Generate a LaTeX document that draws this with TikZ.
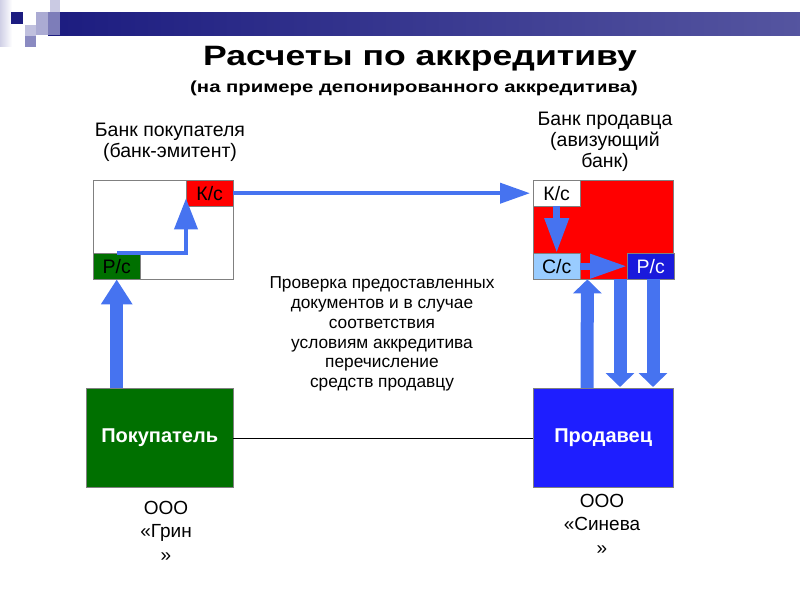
\documentclass[tikz,border=0pt]{standalone}
\usepackage{fontspec}
\setmainfont{Liberation Sans}
\newfontfamily\widefont[FakeStretch=1.27]{Liberation Sans}
\usetikzlibrary{arrows.meta,calc,positioning}
\definecolor{navy}{RGB}{28,28,128}
\definecolor{lav}{RGB}{150,150,200}
\definecolor{bankgreen}{RGB}{0,112,0}
\definecolor{sellblue}{RGB}{30,30,255}
\definecolor{rsblue}{RGB}{26,26,220}
\definecolor{ssblue}{RGB}{153,204,255}
\definecolor{arrblue}{RGB}{70,115,240}

\tikzset{
  txt/.style={font=\fontsize{19.5}{21}\selectfont, align=center, inner sep=0pt},
  acct/.style={draw=gray, inner sep=0pt, minimum width=47pt, minimum height=26pt,
    anchor=north west, font=\fontsize{19.5}{20}\selectfont},
  bank/.style={draw=gray, inner sep=0pt, minimum width=140pt, minimum height=99pt, anchor=north west},
  party/.style={draw=gray, inner sep=0pt, minimum width=147pt, minimum height=99pt,
    anchor=north west, text=white, font=\fontsize{20}{22}\selectfont\bfseries},
  flow/.style={arrblue, line width=4pt},
  blockup/.style={arrblue, line width=13pt, -{Triangle[width=28pt,length=14pt]}}
}

\begin{document}
\begin{tikzpicture}[x=1pt,y=-1pt]
  \useasboundingbox (0,0) rectangle (800,600);

  % header bar
  \shade[left color=navy, right color=navy!75!white] (48,12) rectangle (800,35);
  \shade[left color=lav!45!white, right color=white] (0,0) rectangle (12,46);
  \fill[navy] (11,12) rectangle (23,24);
  \fill[lav, opacity=0.8] (36,12) rectangle (60,35);
  \fill[lav, opacity=0.5] (50,0) rectangle (60,12);
  \fill[lav!60!white] (25,25) rectangle (36,36);
  \fill[lav!90!navy] (25,36) rectangle (36,47);

  \node[txt, font=\widefont\fontsize{28}{32}\selectfont\bfseries] (title) at (420,59) {Расчеты по аккредитиву};
  \node[txt, font=\widefont\fontsize{16}{19}\selectfont\bfseries] (subtitle) at (414,88) {(на примере депонированного аккредитива)};

  % banks
  \node[txt] (buyerbanklbl) at (170,142) {Банк покупателя\\(банк-эмитент)};
  \node[txt] (sellerbanklbl) at (605,142) {Банк продавца\\(авизующий\\банк)};

  \node[bank, fill=white] (buyerbank) at (93,180) {};
  \node[acct, fill=red] (ksL) at (186,180) {К/с};
  \node[acct, fill=bankgreen] (rsL) at (93,253) {Р/с};

  \node[bank, fill=red] (sellerbank) at (533,180) {};
  \node[acct, fill=white] (ksR) at (533,180) {К/с};
  \node[acct, fill=ssblue] (ssR) at (533,253) {С/с};
  \node[acct, fill=rsblue, text=white] (rsR) at (627,253) {Р/с};

  % parties
  \node[party, fill=bankgreen] (buyer) at (86,388) {Покупатель};
  \node[party, fill=sellblue, minimum width=140pt] (seller) at (533,388) {Продавец};
  \draw (buyer) -- (seller);

  \node[txt, font=\fontsize{19}{23.5}\selectfont] (buyername) at (166,531) {ООО\\«Грин\\»};
  \node[txt, font=\fontsize{19}{23.5}\selectfont] (sellername) at (602,524) {ООО\\«Синева\\»};

  \node[txt, font=\fontsize{17.3}{19.8}\selectfont] (note) at (382,334) {Проверка предоставленных\\документов и в случае\\соответствия\\условиям аккредитива\\перечисление\\средств продавцу};

  % flows
  \draw[flow, -{Triangle[width=23pt,length=31pt]}] ($(rsL.north west)+(24,0)$) -- ($(rsL.north west)+(93,0)$) -- ($(ksL.south west)+(0,-8)$);
  \draw[flow, -{Triangle[width=20pt,length=30pt]}] (ksL.east) -- ($(ksR.west)+(-3,0)$);
  \draw[arrblue, line width=7pt, -{Triangle[width=23pt,length=35pt]}] (ksR.south) -- (ssR.north);
  \draw[arrblue, line width=7pt, -{Triangle[width=23pt,length=37pt]}] (ssR.east) -- (rsR.west);

  \draw[blockup, -{Triangle[width=30pt,length=25pt]}] (rsL.south |- buyer.north) -- (rsL.south);
  \draw[blockup] ($(seller.north west)+(54,0)$) -- ($(ssR.south east)+(7,0)$);
  \draw[blockup] ($(rsR.south west)+(-7,0)$) -- ($(seller.north west)+(87,-1)$);
  \draw[blockup] ($(rsR.south west)+(26,0)$) -- ($(seller.north west)+(120,-1)$);
\end{tikzpicture}
\end{document}
